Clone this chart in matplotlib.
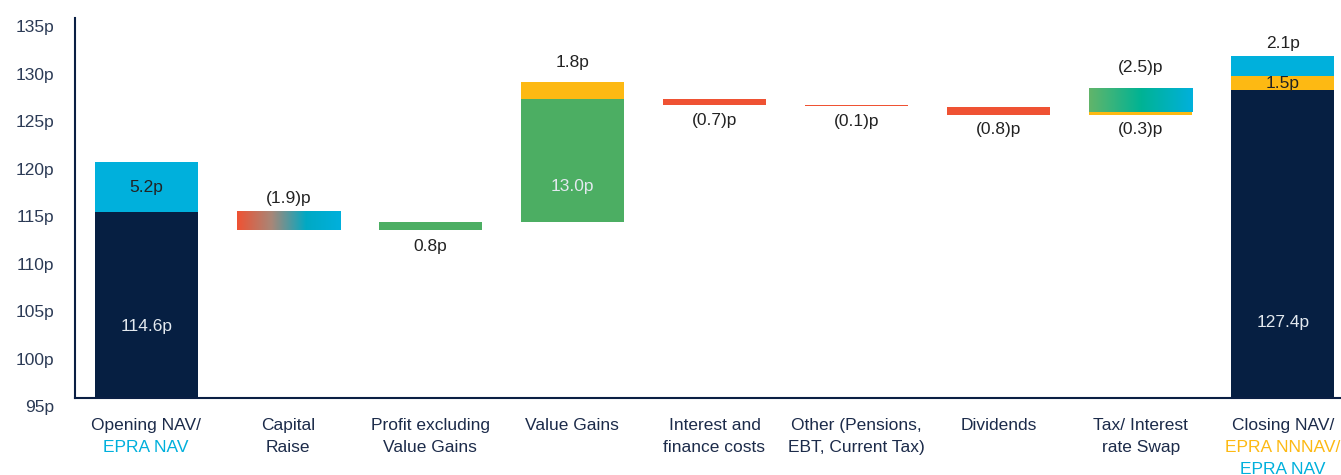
import numpy as np
import matplotlib.pyplot as plt
import matplotlib.transforms as mtransforms
from matplotlib.colors import LinearSegmentedColormap

plt.rcParams['font.family'] = ['Liberation Sans', 'DejaVu Sans']

# category labels: list of (text, colour key) lines
categories = [
    [('Opening NAV/', 'text'), ('EPRA NAV', 'cyan')],
    [('Capital', 'text'), ('Raise', 'text')],
    [('Profit excluding', 'text'), ('Value Gains', 'text')],
    [('Value Gains', 'text')],
    [('Interest and', 'text'), ('finance costs', 'text')],
    [('Other (Pensions,', 'text'), ('EBT, Current Tax)', 'text')],
    [('Dividends', 'text')],
    [('Tax/ Interest', 'text'), ('rate Swap', 'text')],
    [('Closing NAV/', 'text'), ('EPRA NNNAV/', 'yellow'), ('EPRA NAV', 'cyan')],
]

# waterfall segments
seg_x = [0, 0, 1, 2, 3, 3, 4, 5, 6, 7, 7, 8, 8, 8]
seg_bottom = [95.0, 114.6, 112.7, 112.7, 113.5, 126.5, 125.8, 125.7, 124.8, 124.8, 125.1, 95.0, 127.4, 128.9]
seg_height = [19.6, 5.2, 1.9, 0.8, 13.0, 1.8, 0.7, 0.1, 0.8, 0.3, 2.5, 32.4, 1.5, 2.1]
seg_fill = ['navy', 'cyan', 'grad_rc', 'green', 'green', 'yellow', 'red', 'red', 'red',
            'yellow', 'grad_gc', 'navy', 'yellow', 'cyan']
seg_label = ['114.6p', '5.2p', '(1.9)p', '0.8p', '13.0p', '1.8p', '(0.7)p', '(0.1)p', '(0.8)p',
             '(0.3)p', '(2.5)p', '127.4p', '1.5p', '2.1p']

yticks = [95, 100, 105, 110, 115, 120, 125, 130, 135]

# label anchor and pixel offset for each segment label
label_anchor = ['mid', 'mid', 'top', 'bottom', 'mid', 'top', 'bottom', 'bottom', 'bottom',
                'bottom', 'top', 'mid', 'mid', 'top']
label_dy = [-22, 0, 13, -17, -26, 19, -15, -15, -15, -15, 21, -78, 0, 13]
light_labels = {'114.6p', '13.0p', '127.4p'}

colors = {
    'navy': '#061f42', 'cyan': '#00b0dc', 'green': '#4cae63', 'yellow': '#fdb913',
    'red': '#ef5233', 'text': '#1c2b4a',
}
gradients = {
    'grad_rc': LinearSegmentedColormap.from_list('rc', ['#ef5233', '#a88778', '#00a9c4', '#00b0dc']),
    'grad_gc': LinearSegmentedColormap.from_list('gc', ['#62b56a', '#00b394', '#00b0dc']),
}

fig = plt.figure(figsize=(13.41, 4.75), dpi=100)
ax = fig.add_axes([0.056, 0.162, 0.944, 0.8])

width = 0.725
for k, (x, b, h, f, lab) in enumerate(zip(seg_x, seg_bottom, seg_height, seg_fill, seg_label)):
    if f in gradients:
        grad = np.linspace(0, 1, 256).reshape(1, -1)
        ax.imshow(grad, cmap=gradients[f], aspect='auto', interpolation='bicubic',
                  extent=(x - width / 2, x + width / 2, b, b + h), zorder=2)
    else:
        ax.bar(x, h, bottom=b, width=width, color=colors[f], zorder=2)

    anchor = {'top': b + h, 'bottom': b, 'mid': b + h / 2}[label_anchor[k]]
    tcol = '#e3e9ef' if lab in light_labels else '#222222'
    ax.annotate(lab, (x, anchor), xytext=(0, label_dy[k]), textcoords='offset pixels',
                ha='center', va='center', fontsize=12.5, color=tcol)

ax.set_xlim(-0.5, 8.41)
ax.set_ylim(95, 135)
ax.set_yticks(yticks)
ax.set_yticklabels([f'{t}p' for t in yticks], fontsize=12.5, color='#2b3a55')
ax.tick_params(axis='y', length=0, pad=15)
shift = mtransforms.ScaledTranslation(0, -8 / 100, fig.dpi_scale_trans)
for t in ax.get_yticklabels():
    t.set_transform(t.get_transform() + shift)
ax.set_xticks([])

for s in ['top', 'right']:
    ax.spines[s].set_visible(False)
for s in ['left', 'bottom']:
    ax.spines[s].set_color('#0a1f44')
    ax.spines[s].set_linewidth(1.5)

trans = ax.get_xaxis_transform()
for i, lines in enumerate(categories):
    for j, (txt, ck) in enumerate(lines):
        ax.annotate(txt, (i, 0), xycoords=trans, xytext=(0, -27 - 22 * j),
                    textcoords='offset pixels', ha='center', va='center',
                    fontsize=12.5, color=colors[ck], annotation_clip=False)

fig.savefig('out.png', dpi=100)
